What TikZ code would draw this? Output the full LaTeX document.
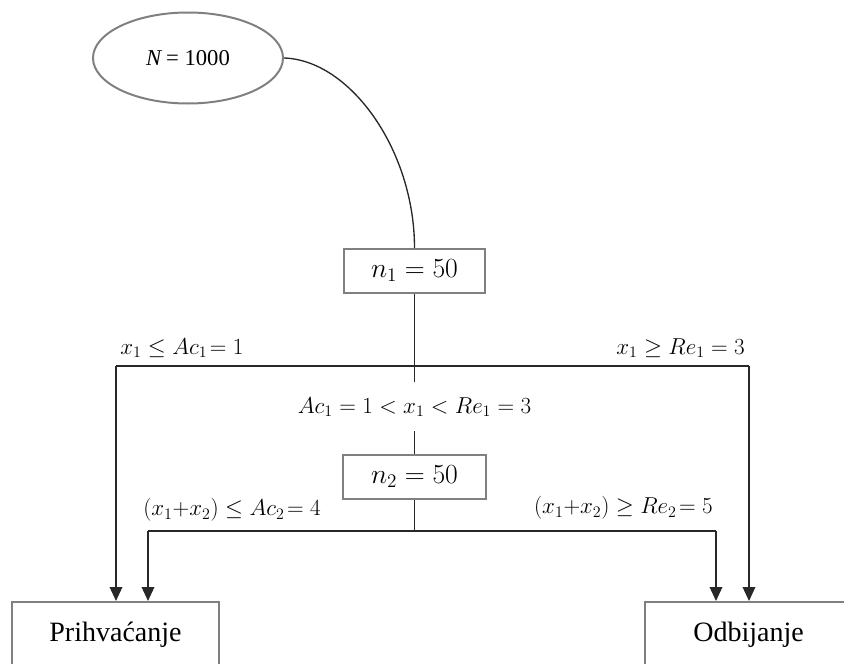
\documentclass[tikz,border=0pt]{standalone}
\usepackage{fontspec}
\setmainfont{Liberation Serif}
\usepackage{amsmath}
\usepackage{amssymb}
\usetikzlibrary{arrows.meta,shapes.geometric}
\definecolor{boxgray}{RGB}{128,128,128}
\definecolor{linedark}{RGB}{40,40,40}

\begin{document}
\begin{tikzpicture}[x=0.75pt, y=-0.75pt,
  frame/.style={draw=boxgray, line width=1.5pt, inner sep=0pt},
  link/.style={draw=linedark, line width=1pt},
  arr/.style={link, -{Triangle[length=10.5pt, width=9.5pt]}},
  cond/.style={inner sep=0pt, font=\fontsize{17}{20}\selectfont}]
\useasboundingbox (0,0) rectangle (844,664);

% Lot and final decisions
\node[frame, ellipse, minimum width=142.5pt, minimum height=68.25pt,
  font=\fontsize{17}{20}\selectfont] (lot) at (188,58) {\textit{N}\,= 1000};
\node[frame, minimum width=155.25pt, minimum height=49.5pt,
  font=\fontsize{21}{24}\selectfont] (acc) at (115.5,635) {Prihvaćanje};
\node[frame, minimum width=155.25pt, minimum height=49.5pt,
  font=\fontsize{21}{24}\selectfont] (rej) at (748.5,635) {Odbijanje};

% First sample
\node[frame, minimum width=105.75pt, minimum height=33pt,
  font=\fontsize{21}{24}\selectfont] (n1) at (414.5,271) {$n_1 = 50$};
\draw[link] (lot.east) .. controls (350,60) and (414.5,150) .. (n1.north);

\coordinate (l1) at (116,366);
\coordinate (r1) at (749,366);
\coordinate (c1a) at (414.5,382);
\coordinate (c1b) at (414.5,431);
\draw[link] (n1.south) -- (c1a);
\draw[link] (l1) -- (r1);
\draw[arr] (l1) -- (l1 |- acc.north);
\draw[arr] (r1) -- (r1 |- rej.north);

\node[cond, anchor=west] (acc1) at (120,348) {$x_1 \leq Ac_1\!= 1$};
\node[cond, anchor=east] (rej1) at (745,348) {$x_1 \geq Re_1 = 3$};
\node[cond] (mid1) at (414.5,407) {$Ac_1 = 1 < x_1 < Re_1 = 3$};

% Second sample
\node[frame, minimum width=107.25pt, minimum height=33pt,
  font=\fontsize{21}{24}\selectfont] (n2) at (414.5,477) {$n_2 = 50$};
\draw[link] (c1b) -- (n2.north);

\coordinate (c2) at (414.5,531);
\coordinate (l2) at (148,531);
\coordinate (r2) at (716,531);
\draw[link] (n2.south) -- (c2);
\draw[link] (l2) -- (r2);
\draw[arr] (l2) -- (l2 |- acc.north);
\draw[arr] (r2) -- (r2 |- rej.north);

\node[cond, anchor=west] (acc2) at (143,510) {$(x_1{+}x_2) \leq Ac_2\!= 4$};
\node[cond, anchor=east] (rej2) at (713,508) {$(x_1{+}x_2) \geq Re_2\!= 5$};
\end{tikzpicture}
\end{document}
